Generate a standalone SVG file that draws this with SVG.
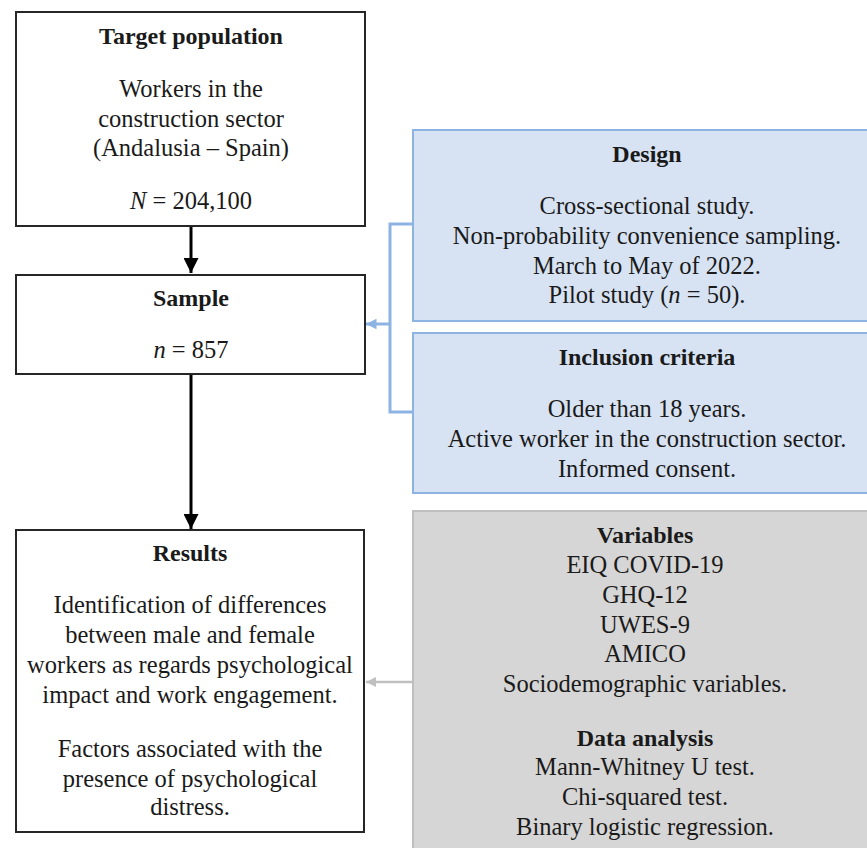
<svg xmlns="http://www.w3.org/2000/svg" width="867" height="848" viewBox="0 0 867 848">
<defs>
<style>
text{font-family:"Liberation Serif","Times New Roman",serif;font-size:24.5px;fill:#1a1a1a;text-anchor:middle}
.b{font-weight:bold;font-size:24px}
.i{font-style:italic}
.box{fill:#fff;stroke:#262626;stroke-width:2}
.blue{fill:#d7e3f3;stroke:#8db3e2;stroke-width:2}
.gray{fill:#d6d6d6;stroke:#bfbfbf;stroke-width:2}
</style>
<marker id="ab" viewBox="0 0 10 10" refX="10" refY="5" markerWidth="5" markerHeight="5" markerUnits="strokeWidth" orient="auto"><path d="M0,0L10,5L0,10z" fill="#000"/></marker>
<marker id="abl" viewBox="0 0 10 10" refX="10" refY="5" markerWidth="3.5" markerHeight="3.5" markerUnits="strokeWidth" orient="auto"><path d="M0,0L10,5L0,10z" fill="#8db3e2"/></marker>
<marker id="agr" viewBox="0 0 10 10" refX="10" refY="5" markerWidth="4" markerHeight="4" markerUnits="strokeWidth" orient="auto"><path d="M0,0L10,5L0,10z" fill="#c0c0c0"/></marker>
</defs>
<rect width="867" height="848" fill="#fff"/>
<g id="connectors">
<line x1="191" y1="227" x2="191" y2="273" stroke="#000" stroke-width="3" marker-end="url(#ab)"/>
<line x1="191" y1="375" x2="191" y2="529" stroke="#000" stroke-width="3" marker-end="url(#ab)"/>
<polyline points="413,224 390,224 390,412 413,412" fill="none" stroke="#8db3e2" stroke-width="3"/>
<line x1="390" y1="324" x2="366" y2="324" stroke="#8db3e2" stroke-width="3" marker-end="url(#abl)"/>
<line x1="413" y1="682" x2="366" y2="682" stroke="#c0c0c0" stroke-width="2.5" marker-end="url(#agr)"/>
</g>
<g id="target">
<rect class="box" x="16" y="12" width="349" height="214"/>
<text class="b" x="191" y="44">Target population</text>
<text x="191" y="97">Workers in the</text>
<text x="191" y="127">construction sector</text>
<text x="191" y="156">(Andalusia – Spain)</text>
<text x="191" y="209"><tspan class="i">N</tspan> = 204,100</text>
</g>
<g id="sample">
<rect class="box" x="16" y="275" width="349" height="99"/>
<text class="b" x="191" y="306">Sample</text>
<text x="191" y="358"><tspan class="i">n</tspan> = 857</text>
</g>
<g id="design">
<rect class="blue" x="413" y="130" width="470" height="191"/>
<text class="b" x="647" y="162">Design</text>
<text x="647" y="214">Cross-sectional study.</text>
<text x="647" y="244">Non-probability convenience sampling.</text>
<text x="647" y="274">March to May of 2022.</text>
<text x="647" y="303">Pilot study (<tspan class="i">n</tspan> = 50).</text>
</g>
<g id="inclusion">
<rect class="blue" x="413" y="333" width="470" height="160"/>
<text class="b" x="647" y="365">Inclusion criteria</text>
<text x="647" y="417">Older than 18 years.</text>
<text x="647" y="447">Active worker in the construction sector.</text>
<text x="647" y="477">Informed consent.</text>
</g>
<g id="results">
<rect class="box" x="16" y="530" width="348" height="302"/>
<text class="b" x="190" y="561">Results</text>
<text x="190" y="613">Identification of differences</text>
<text x="190" y="643">between male and female</text>
<text x="190" y="673">workers as regards psychological</text>
<text x="190" y="703">impact and work engagement.</text>
<text x="190" y="757">Factors associated with the</text>
<text x="190" y="787">presence of psychological</text>
<text x="190" y="815">distress.</text>
</g>
<g id="methods">
<rect class="gray" x="413" y="511" width="470" height="350"/>
<text class="b" x="645" y="543">Variables</text>
<text x="645" y="573">EIQ COVID-19</text>
<text x="645" y="603">GHQ-12</text>
<text x="645" y="633">UWES-9</text>
<text x="645" y="662">AMICO</text>
<text x="645" y="692">Sociodemographic variables.</text>
<text class="b" x="645" y="746">Data analysis</text>
<text x="645" y="775">Mann-Whitney U test.</text>
<text x="645" y="805">Chi-squared test.</text>
<text x="645" y="835">Binary logistic regression.</text>
</g>
</svg>
